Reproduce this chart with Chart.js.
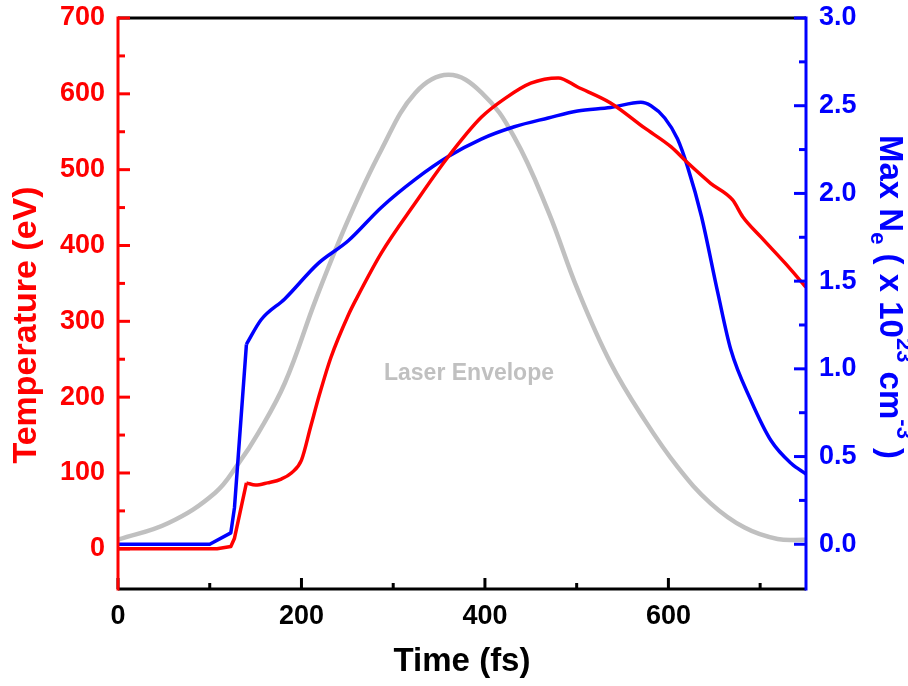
<!DOCTYPE html>
<html>
<head>
<meta charset="utf-8">
<script src="https://cdn.jsdelivr.net/npm/chart.js@4"></script>
<style>
  body { margin: 0; background: #fff; }
  canvas { display: block; }
</style>
</head>
<body>
<canvas id="chart" width="908" height="686"></canvas>
<script>
  // temperature (eV), left axis
  const timeRed = [0, 108, 123, 127, 140, 150, 163, 178, 189, 200, 210, 220, 232, 251, 260, 287, 324, 360, 396, 422, 450, 480, 501, 537, 574, 603, 621, 646, 670, 681, 701, 727, 750];
  const temperature = [0, 0, 3, 14, 87, 84, 87, 92, 100, 117, 161, 205, 252, 308, 330, 390, 456, 517, 569, 594, 614, 621, 609, 588, 555, 530, 509, 482, 460, 438, 411, 377, 345];

  // max electron density, right axis
  const timeBlue = [0, 100, 123, 127, 140, 156, 182, 218, 251, 287, 324, 360, 396, 432, 469, 501, 537, 570, 581, 596, 610, 621, 636, 654, 668, 690, 712, 734, 750];
  const density = [0, 0, 0.065, 0.21, 1.14, 1.28, 1.4, 1.6, 1.73, 1.92, 2.08, 2.21, 2.31, 2.38, 2.43, 2.47, 2.49, 2.52, 2.5, 2.43, 2.31, 2.15, 1.87, 1.43, 1.11, 0.82, 0.59, 0.46, 0.4];

  // laser envelope, drawn on left axis
  const timeGray = [0, 55, 106, 131, 153, 182, 216, 251, 287, 324, 360, 396, 432, 469, 501, 537, 574, 610, 646, 683, 719, 750];
  const laser = [12, 34, 74, 112, 153, 219, 330, 434, 526, 601, 625, 602, 543, 445, 342, 245, 170, 108, 60, 28, 13, 12];

  // the steep onset (first 5 points) is drawn straight, the rest smoothed
  const KNEE = 4;

  const xMajor = [0, 200, 400, 600];
  const xMinor = [100, 300, 500, 700];
  const yMajor = [0, 100, 200, 300, 400, 500, 600, 700];
  const yMinor = [50, 150, 250, 350, 450, 550, 650];
  const y1Major = [0, 0.5, 1, 1.5, 2, 2.5, 3];
  const y1Minor = [0.25, 0.75, 1.25, 1.75, 2.25, 2.75];

  const FONT = "'Liberation Sans', Arial, sans-serif";
  const RED = "#ff0000", BLUE = "#0000ff", GRAY = "#c0c0c0";
  const pts = (xs, ys, a, b) => xs.slice(a, b).map((x, i) => ({ x, y: ys.slice(a, b)[i] }));

  function seg(ctx, x1, y1, x2, y2, color, w) {
    ctx.strokeStyle = color;
    ctx.lineWidth = w;
    ctx.beginPath();
    ctx.moveTo(x1, y1);
    ctx.lineTo(x2, y2);
    ctx.stroke();
  }

  // axis lines + inward ticks
  const frame = {
    id: "frame",
    afterDatasetsDraw(chart) {
      const { ctx, chartArea: a, scales } = chart;
      ctx.save();
      ctx.lineCap = "butt";
      seg(ctx, a.left, a.top, a.right, a.top, "#000", 3);
      seg(ctx, a.left, a.bottom, a.right, a.bottom, "#000", 3);
      xMajor.forEach((v) => { const p = scales.x.getPixelForValue(v); seg(ctx, p, a.bottom, p, a.bottom - 11, "#000", 3); });
      xMinor.forEach((v) => { const p = scales.x.getPixelForValue(v); seg(ctx, p, a.bottom, p, a.bottom - 6, "#000", 3); });
      seg(ctx, a.left, a.top - 1.5, a.left, a.bottom + 1.5, RED, 3);
      yMajor.forEach((v) => { const p = scales.y.getPixelForValue(v); seg(ctx, a.left, p, a.left + 12, p, RED, 3); });
      yMinor.forEach((v) => { const p = scales.y.getPixelForValue(v); seg(ctx, a.left, p, a.left + 7, p, RED, 3); });
      seg(ctx, a.right, a.top - 1.5, a.right, a.bottom + 1.5, BLUE, 3);
      y1Major.forEach((v) => { const p = scales.y1.getPixelForValue(v); seg(ctx, a.right, p, a.right - 12, p, BLUE, 3); });
      y1Minor.forEach((v) => { const p = scales.y1.getPixelForValue(v); seg(ctx, a.right, p, a.right - 7, p, BLUE, 3); });
      ctx.restore();
    }
  };

  // axis titles and the in-plot label
  const titles = {
    id: "titles",
    afterDraw(chart) {
      const { ctx, chartArea: a } = chart;
      ctx.save();
      ctx.textAlign = "center";
      ctx.textBaseline = "middle";

      ctx.fillStyle = "#000";
      ctx.font = `bold 33px ${FONT}`;
      ctx.fillText("Time (fs)", (a.left + a.right) / 2, 662);

      ctx.save();
      ctx.translate(27, 325);
      ctx.rotate(-Math.PI / 2);
      ctx.fillStyle = RED;
      ctx.font = `bold 34px ${FONT}`;
      ctx.fillText("Temperature (eV)", 0, 0);
      ctx.restore();

      ctx.fillStyle = GRAY;
      ctx.font = `bold 23px ${FONT}`;
      ctx.fillText("Laser Envelope", 469, 374);

      // right title with sub/superscripts, rotated clockwise
      const parts = [
        { t: "Max N", s: 33, dy: 0 },
        { t: "e", s: 22, dy: 9 },
        { t: " ( x 10", s: 33, dy: 0 },
        { t: "23", s: 22, dy: -17 },
        { t: " cm", s: 33, dy: 0 },
        { t: "-3", s: 22, dy: -17 },
        { t: " )", s: 33, dy: 0 }
      ];
      ctx.fillStyle = BLUE;
      ctx.textAlign = "left";
      ctx.textBaseline = "alphabetic";
      let total = 0;
      parts.forEach((p) => { ctx.font = `bold ${p.s}px ${FONT}`; p.w = ctx.measureText(p.t).width; total += p.w; });
      ctx.translate(880, 297);
      ctx.rotate(Math.PI / 2);
      let x = -total / 2;
      parts.forEach((p) => { ctx.font = `bold ${p.s}px ${FONT}`; ctx.fillText(p.t, x, p.dy); x += p.w; });
      ctx.restore();
    }
  };

  const tickFont = { family: FONT, size: 27, weight: "bold" };
  const noPad = (s) => { s.paddingTop = 0; s.paddingBottom = 0; s.paddingLeft = 0; s.paddingRight = 0; };
  const straight = { cubicInterpolationMode: "default", tension: 0 };

  new Chart(document.getElementById("chart"), {
    type: "line",
    data: {
      datasets: [
        { data: pts(timeRed, temperature, 0, KNEE + 1), yAxisID: "y", borderColor: RED, borderWidth: 3.5, order: 1, ...straight },
        { data: pts(timeRed, temperature, KNEE), yAxisID: "y", borderColor: RED, borderWidth: 3.5, order: 1 },
        { data: pts(timeBlue, density, 0, KNEE + 1), yAxisID: "y1", borderColor: BLUE, borderWidth: 3.5, order: 2, ...straight },
        { data: pts(timeBlue, density, KNEE), yAxisID: "y1", borderColor: BLUE, borderWidth: 3.5, order: 2 },
        { data: pts(timeGray, laser, 0), yAxisID: "y", borderColor: GRAY, borderWidth: 4.5, order: 3, cubicInterpolationMode: "default", tension: 0.4 }
      ]
    },
    options: {
      responsive: false,
      animation: false,
      layout: { padding: { top: 18 } },
      elements: { point: { radius: 0 }, line: { cubicInterpolationMode: "monotone", fill: false, borderJoinStyle: "round" } },
      plugins: { legend: { display: false }, tooltip: { enabled: false } },
      scales: {
        x: {
          type: "linear", min: 0, max: 750,
          grid: { display: false, drawTicks: false }, border: { display: false },
          ticks: { stepSize: 200, includeBounds: false, color: "#000", font: tickFont, padding: 11, maxRotation: 0 },
          afterFit: (s) => { s.height = 97; noPad(s); }
        },
        y: {
          position: "left", min: -53, max: 700,
          grid: { display: false, drawTicks: false }, border: { display: false },
          ticks: { stepSize: 100, includeBounds: false, color: RED, font: tickFont, padding: 13 },
          afterFit: (s) => { s.width = 118; noPad(s); }
        },
        y1: {
          position: "right", min: -0.255, max: 3,
          grid: { display: false, drawTicks: false }, border: { display: false },
          ticks: { stepSize: 0.5, includeBounds: false, color: BLUE, font: tickFont, padding: 13, callback: (v) => v.toFixed(1) },
          afterFit: (s) => { s.width = 102; noPad(s); }
        }
      }
    },
    plugins: [frame, titles]
  });
</script>
</body>
</html>
